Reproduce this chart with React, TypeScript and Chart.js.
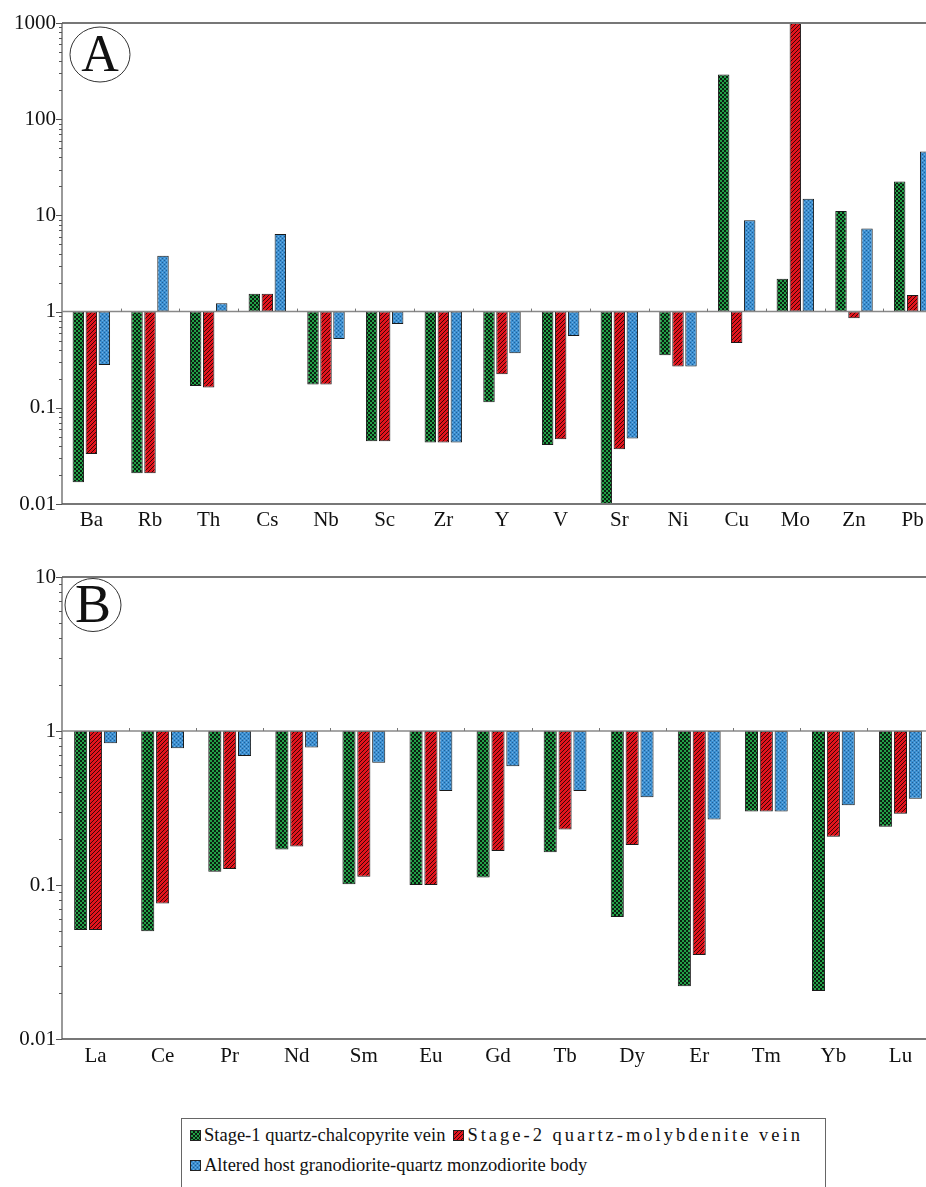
import React, { useEffect, useRef, useMemo } from 'react';
import { Chart, registerables } from 'chart.js';

Chart.register(...registerables);

// ---------- DATA ----------
const traceCategories = ['Ba', 'Rb', 'Th', 'Cs', 'Nb', 'Sc', 'Zr', 'Y', 'V', 'Sr', 'Ni', 'Cu', 'Mo', 'Zn', 'Pb'];
const traceStage1 = [0.0168, 0.0209, 0.169, 1.53, 0.175, 0.045, 0.0435, 0.114, 0.041, 0.01, 0.352, 292, 2.2, 11.1, 22.5];
const traceStage2 = [0.033, 0.0209, 0.163, 1.53, 0.175, 0.045, 0.0435, 0.223, 0.047, 0.037, 0.268, 0.472, 1000, 0.853, 1.49];
const traceHost = [0.279, 3.8, 1.22, 6.4, 0.52, 0.745, 0.0435, 0.369, 0.558, 0.048, 0.268, 8.93, 14.9, 7.3, 46.2];
const traceTickLabels = ['0.01', '0.1', '1', '10', '100', '1000'];

const reeCategories = ['La', 'Ce', 'Pr', 'Nd', 'Sm', 'Eu', 'Gd', 'Tb', 'Dy', 'Er', 'Tm', 'Yb', 'Lu'];
const reeStage1 = [0.051, 0.05, 0.122, 0.17, 0.101, 0.1, 0.112, 0.163, 0.062, 0.022, 0.3, 0.0205, 0.239];
const reeStage2 = [0.051, 0.0757, 0.127, 0.178, 0.113, 0.1, 0.166, 0.229, 0.182, 0.0351, 0.3, 0.206, 0.29];
const reeHost = [0.832, 0.772, 0.688, 0.78, 0.623, 0.408, 0.59, 0.408, 0.371, 0.266, 0.3, 0.329, 0.363];
const reeTickLabels = ['0.01', '0.1', '1', '10'];

const seriesNames = [
  'Stage-1 quartz-chalcopyrite vein',
  'Stage-2 quartz-molybdenite vein',
  'Altered host granodiorite-quartz monzodiorite body',
];

const FONT = '"Liberation Serif", "Times New Roman", serif';

// ---------- PATTERNS ----------
function makeTile(kind: number): HTMLCanvasElement {
  const c = document.createElement('canvas');
  c.width = 4;
  c.height = 4;
  const g = c.getContext('2d')!;
  if (kind === 0) {
    g.fillStyle = '#22a047';
    g.fillRect(0, 0, 4, 4);
    g.fillStyle = '#0a1f10';
    g.fillRect(2, 0, 2, 2);
    g.fillRect(0, 2, 2, 2);
  } else if (kind === 1) {
    g.fillStyle = '#e3141d';
    g.fillRect(0, 0, 4, 4);
    g.fillStyle = '#3a0506';
    g.fillRect(3, 0, 1, 1);
    g.fillRect(2, 1, 1, 1);
    g.fillRect(1, 2, 1, 1);
    g.fillRect(0, 3, 1, 1);
  } else {
    g.fillStyle = '#3c8fd0';
    g.fillRect(0, 0, 4, 4);
    g.fillStyle = '#1f5f98';
    g.fillRect(0, 0, 1, 1);
    g.fillRect(2, 2, 1, 1);
    g.fillStyle = '#6fb0e4';
    g.fillRect(2, 0, 1, 1);
    g.fillRect(0, 2, 1, 1);
  }
  return c;
}

type PanelProps = {
  categories: string[];
  series: number[][];
  tickLabels: string[];
  min: number;
  max: number;
  letter: string;
  top: number;
  width: number;
  height: number;
  padTop: number;
  padRight: number;
  xAxisHeight: number;
  xLabelPad: number;
  circle: { cx: number; cy: number; rx: number; ry: number; size: number };
};

function Panel(p: PanelProps) {
  const ref = useRef<HTMLCanvasElement | null>(null);
  useEffect(() => {
    const canvas = ref.current!;
    const ctx = canvas.getContext('2d')!;
    const patterns = [0, 1, 2].map((k) => ctx.createPattern(makeTile(k), 'repeat')!);
    const minExp = Math.round(Math.log10(p.min));
    const maxExp = Math.round(Math.log10(p.max));

    const frame = {
      id: 'frame',
      afterDatasetsDraw(chart: any) {
        const { ctx: c, chartArea: a, scales } = chart;
        const y = scales.y;
        const W = chart.width;
        c.save();
        const line = (x1: number, y1: number, x2: number, y2: number) => {
          c.beginPath();
          c.moveTo(x1, y1);
          c.lineTo(x2, y2);
          c.stroke();
        };
        c.strokeStyle = '#777';
        c.lineWidth = 2;
        line(a.left, a.top, W, a.top);
        line(a.left, a.bottom, W, a.bottom);
        c.strokeStyle = '#555';
        c.lineWidth = 1.2;
        line(a.left, a.top, a.left, a.bottom);
        const yb = y.getPixelForValue(1);
        c.strokeStyle = '#888';
        c.lineWidth = 1.5;
        line(a.left, yb, W, yb);
        // y ticks
        c.strokeStyle = '#555';
        c.lineWidth = 1;
        for (let e = minExp; e <= maxExp; e++) {
          for (let m = 1; m <= 9; m++) {
            const v = m * Math.pow(10, e);
            if (v > p.max * 1.0001) break;
            const py = Math.round(y.getPixelForValue(v)) + 0.5;
            line(a.left - (m === 1 ? 6 : 3), py, a.left, py);
          }
        }
        // category boundary ticks on baseline
        const n = p.categories.length;
        const w = (a.right - a.left) / n;
        c.strokeStyle = '#777';
        for (let i = 1; i < n; i++) {
          const px = Math.round(a.left + i * w) + 0.5;
          line(px, yb, px, yb - 3);
        }
        // circled letter
        const cc = p.circle;
        c.strokeStyle = '#333';
        c.lineWidth = 1;
        c.beginPath();
        c.ellipse(cc.cx, cc.cy, cc.rx, cc.ry, 0, 0, Math.PI * 2);
        c.stroke();
        c.fillStyle = '#111';
        c.font = `${cc.size}px ${FONT}`;
        c.textAlign = 'center';
        c.textBaseline = 'middle';
        c.fillText(p.letter, cc.cx, cc.cy + 3);
        c.restore();
      },
    };

    const chart = new Chart(ctx, {
      type: 'bar',
      data: {
        labels: p.categories,
        datasets: p.series.map((vals, i) => ({
          label: seriesNames[i],
          data: vals.map((v) => [1, v] as [number, number]),
          backgroundColor: patterns[i],
          borderColor: '#1a1a1a',
          borderWidth: 1,
          borderSkipped: false,
          categoryPercentage: 0.665,
          barPercentage: 0.88,
        })),
      },
      options: {
        responsive: false,
        animation: false,
        devicePixelRatio: 1,
        layout: { padding: { top: p.padTop, right: p.padRight, left: 0, bottom: 0 } },
        plugins: { legend: { display: false }, tooltip: { enabled: false } },
        scales: {
          x: {
            grid: { display: false, drawTicks: false },
            border: { display: false },
            ticks: { font: { family: FONT, size: 21 }, color: '#111', padding: p.xLabelPad, maxRotation: 0, autoSkip: false },
            afterFit: (s: any) => {
              s.height = p.xAxisHeight;
            },
          },
          y: {
            type: 'logarithmic',
            min: p.min,
            max: p.max,
            grid: { display: false, drawTicks: false },
            border: { display: false },
            ticks: {
              autoSkip: false,
              padding: 6,
              font: { family: FONT, size: 21 },
              color: '#111',
              callback: (value: any) => {
                const l = Math.log10(Number(value));
                const r = Math.round(l);
                if (Math.abs(l - r) < 1e-6) return p.tickLabels[r - minExp] ?? '';
                return '';
              },
            },
            afterFit: (s: any) => {
              s.width = 62;
            },
          },
        },
      } as any,
      plugins: [frame],
    });
    return () => chart.destroy();
  }, []);
  return (
    <canvas
      ref={ref}
      width={p.width}
      height={p.height}
      style={{ position: 'absolute', left: 0, top: p.top, width: p.width, height: p.height }}
    />
  );
}

function LegendIcon({ kind }: { kind: number }) {
  const url = useMemo(() => makeTile(kind).toDataURL(), [kind]);
  return (
    <span
      style={{
        display: 'inline-block',
        width: 11,
        height: 11,
        border: '1px solid #222',
        backgroundImage: `url(${url})`,
        backgroundRepeat: 'repeat',
        marginRight: 3,
        boxSizing: 'border-box',
        flex: 'none',
      }}
    />
  );
}

export default function App() {
  return (
    <div
      style={{
        position: 'absolute',
        left: 0,
        top: 0,
        width: 926,
        height: 1187,
        overflow: 'hidden',
        background: '#fff',
      }}
    >
      <Panel
        categories={traceCategories}
        series={[traceStage1, traceStage2, traceHost]}
        tickLabels={traceTickLabels}
        min={0.01}
        max={1000}
        letter="A"
        top={0}
        width={960}
        height={530}
        padTop={23}
        padRight={18}
        xAxisHeight={26}
        xLabelPad={4}
        circle={{ cx: 100, cy: 54.5, rx: 30, ry: 27.5, size: 52 }}
      />
      <Panel
        categories={reeCategories}
        series={[reeStage1, reeStage2, reeHost]}
        tickLabels={reeTickLabels}
        min={0.01}
        max={10}
        letter="B"
        top={530}
        width={960}
        height={560}
        padTop={47}
        padRight={26}
        xAxisHeight={51}
        xLabelPad={5}
        circle={{ cx: 93, cy: 75, rx: 28, ry: 26.5, size: 54 }}
      />
      <div
        style={{
          position: 'absolute',
          left: 181,
          top: 1118,
          width: 645,
          height: 100,
          border: '1.5px solid #666',
          boxSizing: 'border-box',
          fontFamily: FONT,
          fontSize: 18.5,
          color: '#111',
          whiteSpace: 'nowrap',
        }}
      >
        <div style={{ position: 'absolute', left: 8, top: 5, display: 'flex', alignItems: 'center', lineHeight: '22px' }}>
          <LegendIcon kind={0} />
          <span>{seriesNames[0]}</span>
          <span style={{ display: 'inline-block', width: 8 }} />
          <LegendIcon kind={1} />
          <span style={{ letterSpacing: '3px' }}>{seriesNames[1]}</span>
        </div>
        <div style={{ position: 'absolute', left: 8, top: 35, display: 'flex', alignItems: 'center', lineHeight: '22px' }}>
          <LegendIcon kind={2} />
          <span>{seriesNames[2]}</span>
        </div>
      </div>
    </div>
  );
}
